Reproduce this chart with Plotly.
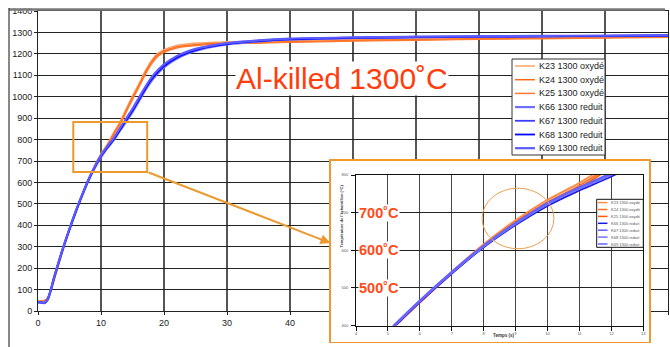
import plotly.graph_objects as go

# ---------------- data ----------------
TIME = [0, 0.5, 1, 1.5, 2, 2.5, 3, 4, 5, 6, 7, 8, 9, 10, 11, 12, 13, 14, 15, 16, 17,
        18, 19, 20, 22, 24, 26, 28, 30, 35, 40, 50, 60, 70, 80, 90, 100]

K23 = [46, 48, 49, 62, 94, 142, 194, 292, 383, 464, 543, 616, 680, 734, 779, 833, 883,
       944, 1004, 1060, 1119, 1168, 1202, 1220, 1239, 1247, 1251, 1254, 1256, 1259, 1262,
       1267, 1270, 1273, 1276, 1279, 1282]
K24 = [45, 47, 48, 60, 92, 140, 192, 290, 381, 462, 540, 612, 675, 728, 772, 826, 875,
       935, 995, 1050, 1110, 1160, 1195, 1213, 1232, 1240, 1245, 1248, 1250, 1253, 1256,
       1262, 1266, 1270, 1273, 1276, 1280]
K25 = [44, 46, 47, 59, 91, 139, 190, 288, 379, 461, 538, 610, 671, 723, 766, 820, 868,
       928, 988, 1043, 1102, 1152, 1188, 1207, 1227, 1236, 1241, 1245, 1247, 1250, 1254,
       1260, 1264, 1268, 1271, 1274, 1278]
K66 = [42, 41, 38, 50, 92, 147, 197, 292, 380, 462, 538, 608, 667, 718, 759, 796, 840,
       884, 928, 978, 1028, 1073, 1108, 1137, 1177, 1204, 1222, 1235, 1244, 1258, 1267,
       1274, 1277, 1280, 1282, 1283, 1285]
K67 = [40, 39, 36, 53, 96, 152, 202, 297, 384, 466, 541, 611, 671, 724, 765, 803, 848,
       894, 940, 990, 1040, 1085, 1119, 1147, 1186, 1211, 1228, 1239, 1248, 1262, 1270,
       1276, 1279, 1281, 1283, 1284, 1286]
K68 = [40, 40, 37, 52, 95, 150, 200, 295, 382, 464, 540, 610, 670, 722, 763, 800, 845,
       890, 935, 985, 1035, 1080, 1115, 1143, 1182, 1208, 1225, 1237, 1246, 1260, 1268,
       1275, 1278, 1280, 1282, 1283, 1285]
K69 = [41, 40, 38, 54, 97, 153, 203, 298, 385, 467, 543, 613, 673, 726, 768, 806, 852,
       898, 944, 994, 1044, 1089, 1123, 1151, 1189, 1214, 1230, 1241, 1250, 1263, 1271,
       1277, 1280, 1282, 1284, 1285, 1287]

SERIES_NAMES = ["K23 1300 oxydé", "K24 1300 oxydé", "K25 1300 oxydé",
                "K66 1300 reduit", "K67 1300 reduit", "K68 1300 reduit", "K69 1300 reduit"]
SERIES_VALUES = [K23, K24, K25, K66, K67, K68, K69]

X_TICKS = [0, 10, 20, 30, 40, 50, 60, 70, 80, 90, 100]
Y_TICKS = [0, 100, 200, 300, 400, 500, 600, 700, 800, 900, 1000, 1100, 1200, 1300, 1400]
INSET_X_TICKS = [4, 5, 6, 7, 8, 9, 10, 11, 12, 13]
INSET_Y_TICKS = [400, 500, 600, 700, 800]
INSET_LABELS = ["700˚C", "600˚C", "500˚C"]
INSET_LABEL_LEVELS = [700, 600, 500]
TITLE = "Al-killed 1300˚C"

# ---------------- styles ----------------
MAIN_COLORS = ["#FFA366", "#FF6A1A", "#FF7A2E", "#6F6FFF", "#3D3DFF", "#0000FF", "#5A5AFF"]
MAIN_WIDTHS = [1.5, 1.5, 1.5, 2.2, 1.8, 1.8, 2.2]
INSET_COLORS = ["#FF8A3D", "#FF6F1F", "#FF5A0A", "#1A1AE6", "#5C5CFF", "#7373FF", "#6262FF"]
FONT = "Liberation Sans, Arial, sans-serif"
ORANGE = "#EC9A30"

W, H = 670, 347
ML, MR, MT, MB = 38, 2, 11, 0
PW, PH = W - ML - MR, H - MT - MB


def X(px):
    return (px - ML) / PW


def Y(py):
    return (H - MB - py) / PH


fig = go.Figure()

# main curves
for name, vals, col, wid in zip(SERIES_NAMES, SERIES_VALUES, MAIN_COLORS, MAIN_WIDTHS):
    fig.add_trace(go.Scatter(x=TIME, y=vals, name=name, mode="lines",
                             line=dict(color=col, width=wid, shape="spline", smoothing=1.0),
                             xaxis="x", yaxis="y", showlegend=False, hoverinfo="skip"))

# inset frame subplot (empty)
fig.add_trace(go.Scatter(x=[None], y=[None], xaxis="x2", yaxis="y2",
                         showlegend=False, hoverinfo="skip"))

# inset curves
for name, vals, col in zip(SERIES_NAMES, SERIES_VALUES, INSET_COLORS):
    fig.add_trace(go.Scatter(x=TIME, y=vals, name=name, mode="lines",
                             line=dict(color=col, width=1.8, shape="spline", smoothing=1.0),
                             xaxis="x3", yaxis="y3", showlegend=False, hoverinfo="skip"))

shapes = []
annotations = []

# zoom rectangle on main chart
shapes.append(dict(type="rect", xref="x", yref="y", x0=5.6, x1=17.33, y0=649, y1=882,
                   line=dict(color=ORANGE, width=2), layer="above"))
# arrow to inset
annotations.append(dict(xref="x", yref="y", axref="x", ayref="y", x=46.42, y=317,
                        ax=17.33, ay=649, text="", showarrow=True, arrowhead=2,
                        arrowsize=1, arrowwidth=2, arrowcolor=ORANGE, standoff=0))

# circle in inset
shapes.append(dict(type="circle", xref="x3", yref="y3", x0=7.95, x1=10.2, y0=604, y1=765,
                   line=dict(color="#E8A050", width=1), layer="above"))

# title
annotations.append(dict(xref="paper", yref="paper", x=X(341.5), y=Y(79), text=TITLE,
                        showarrow=False, font=dict(family=FONT, size=30, color="#FF3D0D"),
                        bgcolor="white", borderpad=0, xanchor="center", yanchor="middle"))

# main legend (manual, to match compact row spacing)
shapes.append(dict(type="rect", xref="paper", yref="paper", x0=X(512), x1=X(605),
                   y0=Y(155), y1=Y(59), fillcolor="white", line=dict(color="#333", width=1),
                   layer="above"))
for i, (name, col, wid) in enumerate(zip(SERIES_NAMES, MAIN_COLORS, MAIN_WIDTHS)):
    yy = Y(66 + 13.7 * i)
    shapes.append(dict(type="line", xref="paper", yref="paper", x0=X(515), x1=X(535),
                       y0=yy, y1=yy, line=dict(color=col, width=wid), layer="above"))
    annotations.append(dict(xref="paper", yref="paper", x=X(536.5), y=yy, text=name,
                            showarrow=False, xanchor="left", yanchor="middle",
                            font=dict(family=FONT, size=9, color="#222")))

# inset legend
shapes.append(dict(type="rect", xref="paper", yref="paper", x0=X(596.7), x1=X(643.3),
                   y0=Y(247.3), y1=Y(199.3), fillcolor="white",
                   line=dict(color="#111", width=1), layer="above"))
for i, (name, col) in enumerate(zip(SERIES_NAMES, INSET_COLORS)):
    yy = Y(202.6 + 6.9 * i)
    shapes.append(dict(type="line", xref="paper", yref="paper", x0=X(598), x1=X(607.5),
                       y0=yy, y1=yy, line=dict(color=col, width=1.5), layer="above"))
    annotations.append(dict(xref="paper", yref="paper", x=X(608.5), y=yy, text=name,
                            showarrow=False, xanchor="left", yanchor="middle",
                            font=dict(family=FONT, size=4, color="#555")))

# inset temperature labels
for lab, lev in zip(INSET_LABELS, INSET_LABEL_LEVELS):
    annotations.append(dict(xref="x3", yref="y3", x=4.07, y=lev, text="<b>" + lab + "</b>",
                            showarrow=False, xanchor="left", yanchor="middle",
                            bgcolor="white", borderpad=0,
                            font=dict(family=FONT, size=14.5, color="#FF4A1A")))

# inset axis titles
annotations.append(dict(xref="paper", yref="paper", x=X(516), y=Y(339.5),
                        text="<b>Temps (s)</b>", showarrow=False,
                        font=dict(family=FONT, size=4.5, color="#333")))
annotations.append(dict(xref="paper", yref="paper", x=X(341), y=Y(250),
                        text="<b>Température de l'échantillon (°C)</b>", showarrow=False,
                        textangle=-90, font=dict(family=FONT, size=4, color="#333")))

# outer chart-area frame
shapes.append(dict(type="rect", xref="paper", yref="paper", x0=X(0), x1=X(W), y0=Y(8.5),
                   y1=Y(0), fillcolor="white", line=dict(width=0), layer="above"))
shapes.append(dict(type="line", xref="paper", yref="paper", x0=X(9), x1=X(665), y0=Y(9.4),
                   y1=Y(9.4), line=dict(color="#7a7a7a", width=2.5), layer="above"))
shapes.append(dict(type="line", xref="paper", yref="paper", x0=X(9), x1=X(9), y0=Y(8),
                   y1=Y(H), line=dict(color="#111", width=1), layer="above"))

fig.update_layout(
    width=W, height=H,
    margin=dict(l=ML, r=MR, t=MT, b=MB, autoexpand=False),
    paper_bgcolor="white", plot_bgcolor="white",
    showlegend=False,
    font=dict(family=FONT, color="#222"),
    shapes=shapes, annotations=annotations,
    xaxis=dict(domain=[0, 1], range=[0, 100], tickvals=X_TICKS, anchor="y", automargin=False,
               showgrid=True, gridcolor="#555", gridwidth=1.4, zeroline=False,
               showline=True, linecolor="#222", linewidth=1, mirror=True,
               ticks="outside", ticklen=3, tickcolor="#222",
               tickfont=dict(size=9, color="#222")),
    yaxis=dict(domain=[Y(311), 1], range=[0, 1400], tickvals=Y_TICKS, anchor="x",
               automargin=False,
               showgrid=True, gridcolor="#222", gridwidth=1, zeroline=False,
               showline=True, linecolor="#222", linewidth=1, mirror=True,
               ticks="outside", ticklen=3, tickcolor="#222",
               tickfont=dict(size=9, color="#222")),
    xaxis2=dict(domain=[X(330.7), X(649.3)], range=[0, 1], anchor="y2", automargin=False,
                showgrid=False, zeroline=False, showticklabels=False, ticks="",
                showline=True, mirror=True, linecolor=ORANGE, linewidth=1.5),
    yaxis2=dict(domain=[Y(341.7), Y(160.7)], range=[0, 1], anchor="x2", automargin=False,
                showgrid=False, zeroline=False, showticklabels=False, ticks="",
                showline=True, mirror=True, linecolor=ORANGE, linewidth=1.5),
    xaxis3=dict(domain=[X(356), X(643.3)], range=[4, 13], tickvals=INSET_X_TICKS,
                anchor="y3", automargin=False,
                showgrid=True, gridcolor="#444", gridwidth=1, zeroline=False,
                showline=True, mirror=True, linecolor="#111", linewidth=1,
                ticks="outside", ticklen=4, tickcolor="#111",
                tickfont=dict(size=4, color="#555")),
    yaxis3=dict(domain=[Y(325.5), Y(175)], range=[400, 800], tickvals=INSET_Y_TICKS,
                anchor="x3", automargin=False,
                showgrid=True, gridcolor="#222", gridwidth=1, zeroline=False,
                showline=True, mirror=True, linecolor="#111", linewidth=1,
                ticks="outside", ticklen=4, tickcolor="#111", ticklabelstandoff=2,
                tickfont=dict(size=4, color="#555")),
)

fig.write_html("out.html",
               config={"displayModeBar": False, "staticPlot": True},
               post_script="document.body.style.margin='0';"
                           "document.body.style.overflow='hidden';")
